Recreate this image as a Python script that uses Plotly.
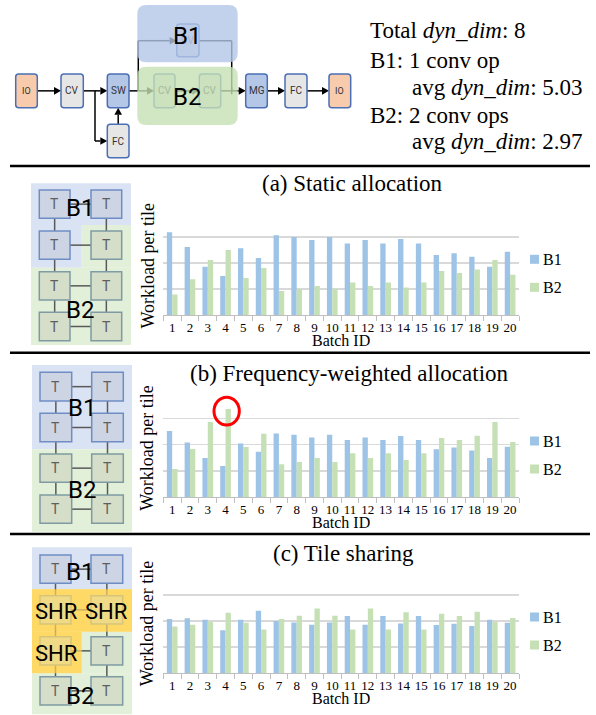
import plotly.graph_objects as go

# ---------------- data ----------------
batch_ids = list(range(1, 21))
tick_labels = [str(i) for i in batch_ids]
series_names = ["B1", "B2"]

static_b1 = [3.18, 2.61, 1.86, 1.50, 2.56, 2.19, 3.06, 2.99, 2.88, 2.99, 2.75, 2.88, 2.75, 2.92, 2.75, 2.31, 2.37, 2.24, 1.86, 2.43]
static_b2 = [0.80, 1.38, 2.11, 2.50, 1.43, 1.81, 0.93, 1.01, 1.12, 1.01, 1.25, 1.12, 1.25, 1.06, 1.25, 1.69, 1.62, 1.75, 2.11, 1.55]
freq_b1 = [2.52, 2.08, 1.49, 1.18, 2.04, 1.73, 2.43, 2.38, 2.27, 2.38, 2.18, 2.27, 2.18, 2.33, 2.18, 1.82, 1.89, 1.78, 1.49, 1.92]
freq_b2 = [1.07, 1.83, 2.87, 3.36, 1.91, 2.42, 1.25, 1.34, 1.49, 1.34, 1.67, 1.49, 1.67, 1.41, 1.67, 2.25, 2.18, 2.34, 2.87, 2.10]
share_b1 = [2.07, 2.10, 2.04, 1.64, 2.04, 2.39, 1.99, 1.94, 1.85, 1.94, 2.19, 1.85, 2.19, 1.90, 2.19, 1.84, 1.89, 1.80, 2.04, 1.93]
share_b2 = [1.78, 1.85, 1.97, 2.31, 1.93, 1.67, 2.07, 2.20, 2.47, 2.20, 1.67, 2.47, 1.67, 2.33, 1.67, 2.27, 2.19, 2.35, 1.97, 2.11]

panel_titles = ["(a) Static allocation", "(b) Frequency-weighted allocation", "(c) Tile sharing"]
y_title = "Workload per tile"
x_title = "Batch ID"

info_lines = ["Total <i>dyn_dim</i>: 8", "B1: 1 conv op", "avg <i>dyn_dim</i>: 5.03",
              "B2: 2 conv ops", "avg <i>dyn_dim</i>: 2.97"]

# ---------------- helpers ----------------
W, H = 596, 715
def X(p): return p / W
def Y(p): return 1 - p / H
def P(x, y): return f"{X(x):.5f},{Y(y):.5f}"

SERIF = "Liberation Serif, Times New Roman, serif"
SANS = "Roboto, Liberation Sans, sans-serif"
B1C = "#9DC3E6"
B2C = "#C5E0B4"

shapes = []
annots = []

def add_rect(x0, y0, x1, y1, fill, line=None, lw=0, opacity=1.0):
    shapes.append(dict(type="rect", xref="paper", yref="paper",
                       x0=X(x0), x1=X(x1), y0=Y(y1), y1=Y(y0), fillcolor=fill,
                       line=dict(color=line if line else "rgba(0,0,0,0)", width=lw if line else 0),
                       opacity=opacity, layer="above"))

def add_rrect(x0, y0, x1, y1, r, fill, line=None, lw=0, opacity=1.0):
    path = (f"M{P(x0+r,y0)} L{P(x1-r,y0)} Q{P(x1,y0)} {P(x1,y0+r)} L{P(x1,y1-r)} "
            f"Q{P(x1,y1)} {P(x1-r,y1)} L{P(x0+r,y1)} Q{P(x0,y1)} {P(x0,y1-r)} "
            f"L{P(x0,y0+r)} Q{P(x0,y0)} {P(x0+r,y0)} Z")
    shapes.append(dict(type="path", xref="paper", yref="paper", path=path, fillcolor=fill,
                       line=dict(color=line if line else "rgba(0,0,0,0)", width=lw if line else 0),
                       opacity=opacity, layer="above"))

def add_line(x0, y0, x1, y1, color="black", lw=1.5):
    shapes.append(dict(type="line", xref="paper", yref="paper",
                       x0=X(x0), x1=X(x1), y0=Y(y0), y1=Y(y1),
                       line=dict(color=color, width=lw), layer="above"))

def add_arrow(x0, y0, x1, y1, color="black", lw=1.5, hl=7, hw=3.8):
    dx, dy = x1 - x0, y1 - y0
    L = (dx * dx + dy * dy) ** 0.5
    ux, uy = dx / L, dy / L
    bx, by = x1 - ux * hl, y1 - uy * hl
    add_line(x0, y0, bx, by, color, lw)
    px, py = -uy, ux
    path = f"M{P(x1,y1)} L{P(bx+px*hw, by+py*hw)} L{P(bx-px*hw, by-py*hw)} Z"
    shapes.append(dict(type="path", xref="paper", yref="paper", path=path, fillcolor=color,
                       line=dict(width=0, color=color), layer="above"))

def add_text(x, y, text, size, color="black", family=SANS, xanchor="center", angle=0):
    annots.append(dict(x=X(x), y=Y(y), xref="paper", yref="paper", text=text, showarrow=False,
                       font=dict(size=size, color=color, family=family),
                       xanchor=xanchor, yanchor="middle", textangle=angle))

# ---------------- top flow diagram ----------------
cy = 90.85
NODE_LINE = "#4A6FB4"
GRAYF = "#E7E6E6"
PEACH = "#F8CBAD"
BLUEF = "#B4C7E7"

add_arrow(37.3, cy, 61, cy)
add_arrow(83.3, cy, 107.3, cy)
add_line(95, cy, 95, 141)
add_arrow(95, 141, 107.3, 141)
add_arrow(118.2, 124.3, 118.2, 107.7)
add_arrow(129, cy, 154, cy)
add_line(138.3, cy, 138.3, 40.7)
add_arrow(138.3, 40.7, 176.7, 40.7)
add_line(199, 40.7, 231.7, 40.7)
add_line(231.7, 40.7, 231.7, cy)
add_line(231.7, cy - 3.5, 231.7, cy + 3.5)
add_arrow(175, cy, 199.3, cy)
add_arrow(220.7, cy, 245.7, cy)
add_arrow(267.3, cy, 285, cy)
add_arrow(307, cy, 329, cy)

nodes = [
    (15.7, 74, 37.3, 107.7, PEACH, "IO", 9),
    (61, 74, 83.3, 107.7, GRAYF, "CV", 10),
    (107.3, 74, 129, 107.7, BLUEF, "SW", 10),
    (107.3, 124.3, 129, 157.7, GRAYF, "FC", 10),
    (176.7, 24, 199, 56.7, GRAYF, "CV", 10),
    (154, 74, 175, 107.7, GRAYF, "CV", 10),
    (199.3, 74, 220.7, 107.7, GRAYF, "CV", 10),
    (245.7, 74, 267.3, 107.7, BLUEF, "MG", 10),
    (285, 74, 307, 107.7, GRAYF, "FC", 10),
    (329, 74, 350.7, 107.7, PEACH, "IO", 9),
]
for i, (x0, y0, x1, y1, f, lab, fs) in enumerate(nodes):
    add_rrect(x0, y0, x1, y1, 3, f, NODE_LINE, 1.5)

# translucent block overlays
add_rrect(137.3, 5, 237.7, 62.3, 9, BLUEF, opacity=0.8)
add_rrect(137.3, 66.7, 237.7, 125, 9, B2C, opacity=0.8)

for i, (x0, y0, x1, y1, f, lab, fs) in enumerate(nodes):
    col = "#333333"
    if i == 4:
        col = "#A9B5CC"
    elif i in (5, 6):
        col = "#A6B99B"
    add_text((x0 + x1) / 2, (y0 + y1) / 2, lab, fs, col)

add_text(186.7, 35.7, "B1", 24)
add_text(186.7, 96.7, "B2", 24)

# info text
info_pos = [(368.3, 30.7), (368.3, 60), (410, 87.3), (368.3, 115), (410, 141.7)]
for (x, y), t in zip(info_pos, info_lines):
    add_text(x, y, t, 23, family=SERIF, xanchor="left")

# separators
for y in (166, 352.7, 534):
    add_line(10, y, 590, y, "black", 2.5)

# ---------------- tile grid diagrams ----------------
BLUE_BG = "#DAE3F3"
GREEN_BG = "#E2F0D9"
YELLOW = "#FFD966"
TILE = {"B1": ("#CDD5E4", "#6F8DC4"), "B2": ("#D4DEC8", "#7F9AA2"), "S": ("#D4DEC8", "#7F9AA2")}
CONN = "#595959"

def draw_grid(cols, rows, kinds):
    for r in range(len(rows)):
        yc = (rows[r][0] + rows[r][1]) / 2
        add_line(cols[0][1], yc, cols[1][0], yc, CONN, 1.5)
    for r in range(len(rows) - 1):
        for c in cols:
            xc = (c[0] + c[1]) / 2
            add_line(xc, rows[r][1], xc, rows[r + 1][0], CONN, 1.5)
    for r, row in enumerate(rows):
        for c, col in enumerate(cols):
            f, l = TILE[kinds[r][c]]
            add_rect(col[0], row[0], col[1], row[1], f, l, 1.5)

def tile_text(cols, rows, kinds):
    for r, row in enumerate(rows):
        for c, col in enumerate(cols):
            if kinds[r][c] != "S":
                add_text((col[0] + col[1]) / 2, (row[0] + row[1]) / 2, "T", 14, "#5F5F5F")

# (a)
add_rect(31, 183.3, 131, 225, BLUE_BG)
add_rect(31, 225, 81, 267.7, BLUE_BG)
add_rect(81, 225, 131, 267.7, GREEN_BG)
add_rect(31, 267.7, 131, 345, GREEN_BG)
colsA = [(39.3, 70), (91, 121.7)]
rowsA = [(190, 218.3), (231, 259.3), (271.7, 300), (312.3, 340.7)]
kindsA = [["B1", "B1"], ["B1", "B2"], ["B2", "B2"], ["B2", "B2"]]
draw_grid(colsA, rowsA, kindsA)
tile_text(colsA, rowsA, kindsA)
add_text(80, 208, "B1", 24)
add_text(80, 310, "B2", 24)

# (b)
add_rect(32, 365, 132, 449.3, BLUE_BG)
add_rect(32, 449.3, 132, 531.7, GREEN_BG)
colsB = [(40, 71.7), (91.7, 123.3)]
rowsB = [(372.3, 401), (413.3, 441.7), (454, 482.3), (495, 523.3)]
kindsB = [["B1", "B1"], ["B1", "B1"], ["B2", "B2"], ["B2", "B2"]]
draw_grid(colsB, rowsB, kindsB)
tile_text(colsB, rowsB, kindsB)
add_text(81.7, 408.3, "B1", 24)
add_text(81.7, 490, "B2", 24)

# (c)
add_rect(32, 547.3, 132, 589.3, BLUE_BG)
add_rect(32, 589.3, 132, 631.7, YELLOW)
add_rect(32, 631.7, 81.7, 673.3, YELLOW)
add_rect(81.7, 631.7, 132, 673.3, GREEN_BG)
add_rect(32, 673.3, 132, 714.3, GREEN_BG)
colsC = [(40, 71), (91, 122.7)]
rowsC = [(555, 583.3), (595.7, 624), (636.7, 665), (676.7, 705)]
kindsC = [["B1", "B1"], ["S", "S"], ["S", "B2"], ["B2", "B2"]]
draw_grid(colsC, rowsC, kindsC)
add_rect(32, 589.3, 132, 631.7, YELLOW, opacity=0.68)
add_rect(32, 631.7, 81.7, 673.3, YELLOW, opacity=0.68)
tile_text(colsC, rowsC, kindsC)
add_text(56, 611.7, "SHR", 22)
add_text(106, 611.7, "SHR", 22)
add_text(56, 653.3, "SHR", 22)
add_text(80, 571.7, "B1", 24)
add_text(80, 695.5, "B2", 24)

# ---------------- bar charts ----------------
fig = go.Figure()
panels = [(static_b1, static_b2), (freq_b1, freq_b2), (share_b1, share_b2)]
plot_boxes = [(210.7, 315.3), (392.3, 497), (568.7, 673)]
title_pos = [(353, 183.7), (349.5, 373.3), (343.6, 553.3)]
ytitle_y = [265.5, 447.8, 623.3]

layout_axes = {}
for i, ((b1, b2), (top, bot)) in enumerate(zip(panels, plot_boxes)):
    sfx = "" if i == 0 else str(i + 1)
    fig.add_bar(x=batch_ids, y=b1, name=series_names[0], marker=dict(color=B1C, line=dict(width=0)),
                xaxis="x" + sfx, yaxis="y" + sfx, showlegend=False)
    fig.add_bar(x=batch_ids, y=b2, name=series_names[1], marker=dict(color=B2C, line=dict(width=0)),
                xaxis="x" + sfx, yaxis="y" + sfx, showlegend=False)
    layout_axes["xaxis" + sfx] = dict(
        domain=[X(163.3), X(519)], range=[0.5, 20.5], anchor="y" + sfx,
        tickmode="array", tickvals=batch_ids, ticktext=tick_labels, ticks="",
        tickfont=dict(family=SERIF, size=13, color="black"),
        showline=True, linecolor="#BFBFBF", linewidth=1, showgrid=False, zeroline=False,
        minor=dict(tick0=0.5, dtick=1, ticks="outside", ticklen=5, tickcolor="#BFBFBF",
                   tickwidth=1, showgrid=False),
        fixedrange=True)
    layout_axes["yaxis" + sfx] = dict(
        domain=[Y(bot), Y(top)], range=[0, 4], anchor="x" + sfx,
        tickmode="array", tickvals=[0, 1, 2, 3, 4], showticklabels=False, ticks="",
        showgrid=True, gridcolor="#D9D9D9", gridwidth=1.5, zeroline=False, showline=False,
        fixedrange=True)
    # titles
    add_text(title_pos[i][0], title_pos[i][1], panel_titles[i], 23, family=SERIF)
    add_text(147, ytitle_y[i], y_title, 18, family=SERIF, angle=-90)
    add_text(341, bot + 25, x_title, 16, family=SERIF)
    # legend
    for k, (col, nm) in enumerate(zip([B1C, B2C], series_names)):
        ly = bot - 56 + 28 * k
        add_rect(530, ly - 4.5, 539, ly + 4.5, col)
        add_text(540.5, ly, nm, 16, family=SERIF, xanchor="left")

# red highlight circle
shapes.append(dict(type="circle", xref="paper", yref="paper",
                   x0=X(214), x1=X(239.3), y0=Y(425), y1=Y(397.3),
                   line=dict(color="#FF0000", width=3), layer="above"))

fig.update_layout(
    width=W, height=H, margin=dict(l=0, r=0, t=0, b=0),
    paper_bgcolor="white", plot_bgcolor="white",
    barmode="group", bargap=0.4, bargroupgap=0, showlegend=False,
    shapes=shapes, annotations=annots, **layout_axes)

fig.write_html("out.html", config={"displayModeBar": False, "staticPlot": True},
               post_script="document.body.style.margin='0';document.body.style.padding='0';"
                           "document.body.style.overflow='hidden';")
